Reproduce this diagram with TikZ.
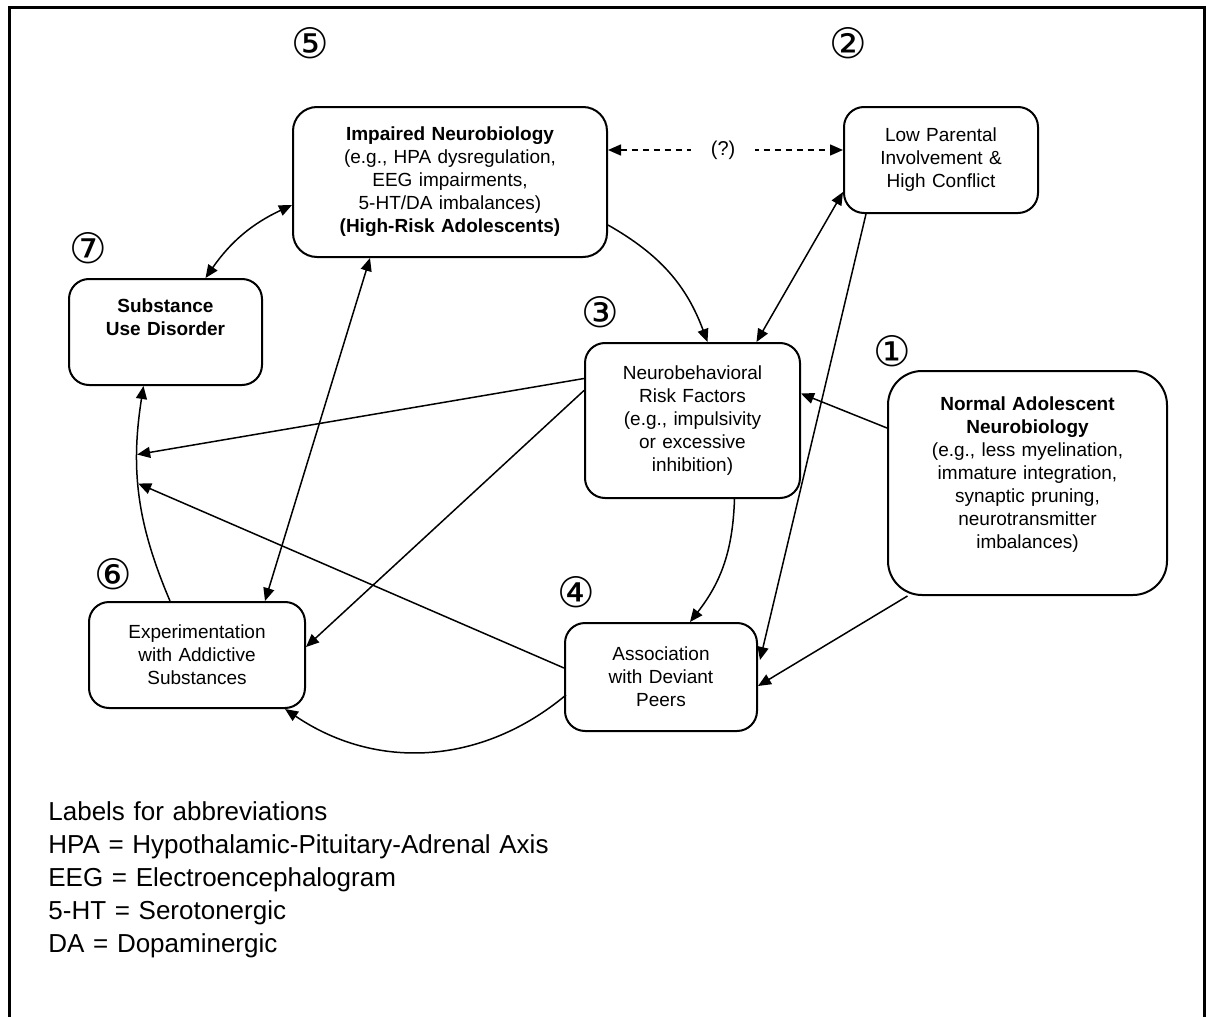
\documentclass[tikz,border=0pt]{standalone}
\usepackage{fontspec}
\setmainfont{Liberation Sans}
\newfontfamily\circfont{DejaVu Sans}
\usetikzlibrary{
  arrows.meta,
  calc
}

\begin{document}
\begin{tikzpicture}[x=0.5pt, y=-0.5pt,
    box/.style={draw, line width=1pt, rounded corners=10pt, align=center, inner xsep=4pt, font=\fontsize{9.5}{11.5}\selectfont},
    num/.style={font=\circfont\fontsize{21}{21}\selectfont, inner sep=0pt},
    arr/.style={line width=0.75pt, -{Triangle[length=6.5pt,width=5.5pt]}},
    dblarr/.style={line width=0.75pt, {Triangle[length=6.5pt,width=5.5pt]}-{Triangle[length=6.5pt,width=5.5pt]}},
    dasharr/.style={dblarr, dash pattern=on 3pt off 2.5pt}]
\useasboundingbox (0,0) rectangle (1207,1017);
\draw[line width=1.5pt] (9,1030) -- (9,7) -- (1204,7) -- (1204,1030);

\node [box, rounded corners=12pt, text width=149pt, minimum height=75pt] (impaired) at (450,182)
  {\textbf{Impaired Neurobiology}\\(e.g., HPA dysregulation,\\EEG impairments,\\5-HT/DA imbalances)\\\textbf{(High-Risk Adolescents)}};
\node [box, text width=89pt, minimum height=53pt] (parental) at (941,160)
  {Low Parental\\Involvement \&\\High Conflict};
\node [box, text width=88.5pt, inner ysep=0pt, text height=16.75pt, text depth=36.25pt] (sud) at (165.5,332)
  {\textbf{Substance}\\\textbf{Use Disorder}};
\node [box, text width=99.5pt, minimum height=77.5pt] (risk) at (692.5,420.5)
  {Neurobehavioral\\Risk Factors\\(e.g., impulsivity\\or excessive\\inhibition)};
\node [box, rounded corners=17pt, text width=131.5pt, inner ysep=0pt, text height=19.9pt, text depth=92.1pt] (normal) at (1027.5,483)
  {\textbf{Normal Adolescent}\\\textbf{Neurobiology}\\(e.g., less myelination,\\immature integration,\\synaptic pruning,\\neurotransmitter\\imbalances)\hspace*{14pt}};
\node [box, text width=100pt, minimum height=53pt] (exper) at (197,655)
  {Experimentation\\with Addictive\\Substances};
\node [box, text width=88pt, minimum height=54pt] (peers) at (661,677)
  {Association\\with Deviant\\Peers};

\node [num] (n1) at (892,351) {①};
\node [num] (n2) at (848,43) {②};
\node [num] (n3) at (600,312) {③};
\node [num] (n4) at (576,592) {④};
\node [num] (n5) at (310,43) {⑤};
\node [num] (n6) at (113,574) {⑥};
\node [num] (n7) at (88,248) {⑦};

\draw [arr] ($(exper.north)+(-27,0)$) to [bend left=16] coordinate[pos=0.56] (c2) coordinate[pos=0.7] (c1) ($(sud.south)+(-22,0)$);
\draw [dblarr] ($(impaired.west)+(0,23)$) to [bend right=15] ($(sud.north)+(40,0)$);
\draw [arr] ($(impaired.east)+(0,43)$) to [bend left=20] ($(risk.north)+(15,0)$);
\draw [dasharr] ($(impaired.east)+(0,-32)$) -- node [pos=0.49, fill=white, inner xsep=10pt] {(?)} ($(parental.west)+(0,-10)$);
\draw [dblarr] ($(parental.west)+(0,32)$) -- ($(risk.north)+(64,0)$);
\draw [arr] ($(parental.south)+(-75,0)$) -- ($(peers.east)+(2,-17)$);
\draw [arr] ($(normal.west)+(0,-55)$) -- ($(risk.east)+(0,-27)$);
\draw [arr] ($(normal.south)+(-120,0)$) -- ($(peers.east)+(0,9)$);
\draw [arr] ($(risk.west)+(0,-42)$) -- (c1);
\draw [arr] ($(risk.west)+(0,-30)$) -- ($(exper.east)+(0,-8)$);
\draw [arr] ($(risk.south)+(42,0)$) to [bend left=18] ($(peers.north)+(29,0)$);
\draw [arr] ($(peers.west)+(0,-9)$) -- (c2);
\draw [arr] ($(peers.west)+(2,18)$) to [bend left=37] ($(exper.south)+(88,0)$);
\draw [dblarr] ($(impaired.south)+(-80,0)$) -- ($(exper.north)+(68,0)$);

\node [anchor=base west, inner sep=0pt, text width=320pt, align=left, font=\fontsize{13}{16.5}\selectfont] (abbr) at (48,820)
  {Labels for abbreviations\\HPA = Hypothalamic-Pituitary-Adrenal Axis\\EEG = Electroencephalogram\\5-HT = Serotonergic\\DA = Dopaminergic};
\end{tikzpicture}
\end{document}
